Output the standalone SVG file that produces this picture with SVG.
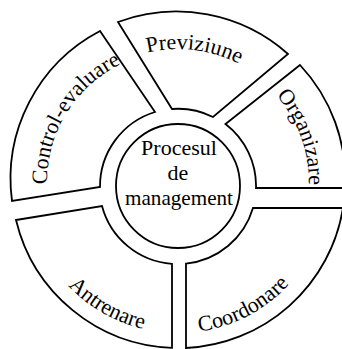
<svg xmlns="http://www.w3.org/2000/svg" width="342" height="349" viewBox="0 0 342 349">
<style>
.seg{fill:#fff;stroke:#000;stroke-width:1.8;stroke-linejoin:miter}
.lbl{font-family:"Liberation Serif","Times New Roman",serif;font-size:22px;fill:#000}
</style>
<defs>
<path id="pPrev" d="M71.8,102 A133,133 0 0 1 300.4,130"/>
<path id="pOrg" d="M200.7,53 A131,131 0 0 1 278.3,266.2"/>
<path id="pCtrl" d="M62.9,244.5 A131,131 0 0 1 181.4,51"/>
<path id="pCoord" d="M97.5,309.8 A151,151 0 0 0 328.9,187.8"/>
<path id="pAntr" d="M27,182 A151,151 0 0 0 253.5,312.8"/>
</defs>
<rect width="342" height="349" fill="#fff"/>
<g id="connectors"></g>
<g id="previziune">
<path class="seg" d="M118,22 L172,109 A78,78 0 0 1 213,117 L288,54 A168,168 0 0 0 118,22 Z"/>
<text class="lbl"><textPath href="#pPrev" startOffset="50%" text-anchor="middle">Previziune</textPath></text>
</g>
<g id="organizare">
<path class="seg" d="M300,65 L225.5,124 A78,78 0 0 1 256,188 L345,188 A167,167 0 0 0 300,65 Z"/>
<text class="lbl"><textPath href="#pOrg" startOffset="50%" text-anchor="middle">Organizare</textPath></text>
</g>
<g id="coordonare">
<path class="seg" d="M253,208 L343,208 A167,167 0 0 1 186,348 L186,263.6 A78,78 0 0 0 253,208 Z"/>
<text class="lbl"><textPath href="#pCoord" startOffset="50%" text-anchor="middle">Coordonare</textPath></text>
</g>
<g id="antrenare">
<path class="seg" d="M16,220 L102,206 A78,78 0 0 0 172,263.8 L172,347.9 A167,167 0 0 1 16,220 Z"/>
<text class="lbl"><textPath href="#pAntr" startOffset="50%" text-anchor="middle">Antrenare</textPath></text>
</g>
<g id="control-evaluare">
<path class="seg" d="M100,31 L155,112 A78,78 0 0 0 100,187 L12,201 A167,167 0 0 1 100,31 Z"/>
<text class="lbl"><textPath href="#pCtrl" startOffset="50%" text-anchor="middle">Control-evaluare</textPath></text>
</g>
<g id="procesul">
<circle class="seg" cx="178" cy="186" r="62"/>
<text class="lbl" text-anchor="middle"><tspan x="179" y="155">Procesul</tspan><tspan x="178" y="180">de</tspan></text>
<text class="lbl" x="125" y="205" textLength="108" lengthAdjust="spacingAndGlyphs">management</text>
</g>
</svg>
